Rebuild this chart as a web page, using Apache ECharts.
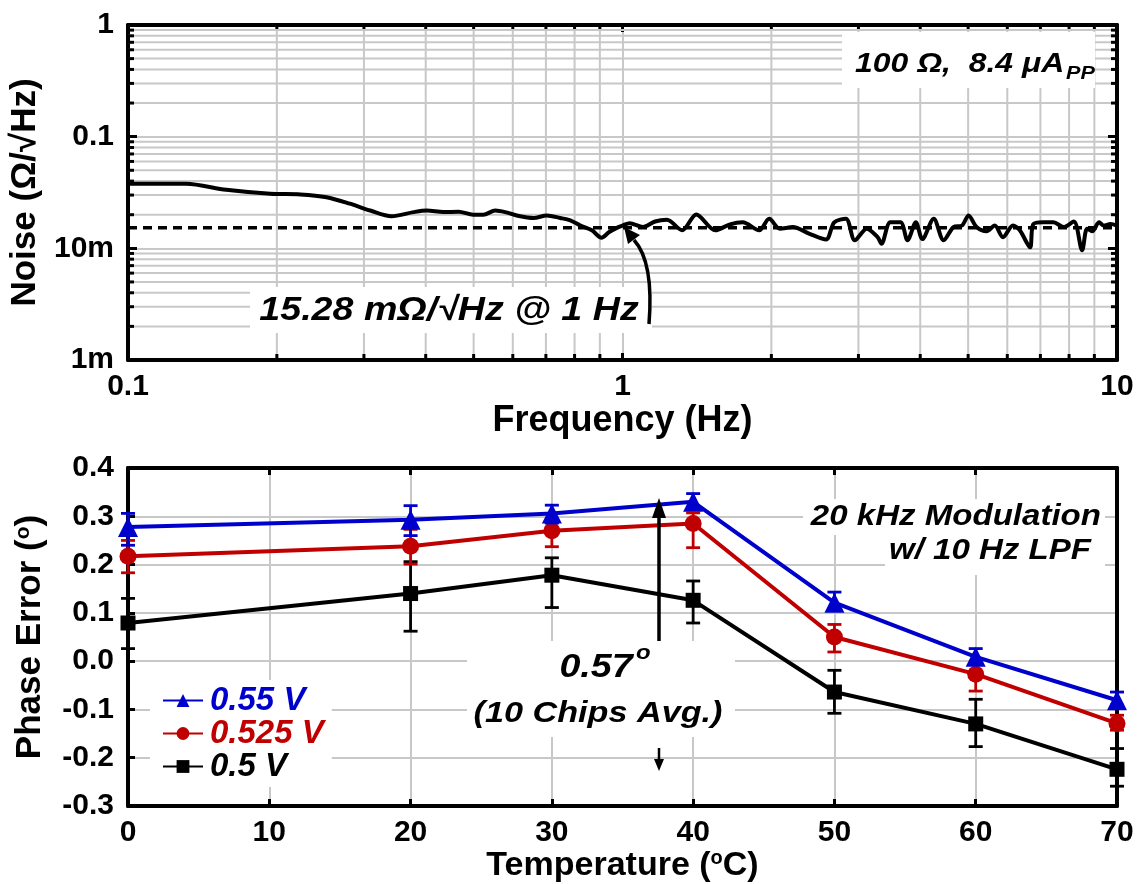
<!DOCTYPE html>
<html>
<head>
<meta charset="utf-8">
<script src="https://cdn.jsdelivr.net/npm/echarts@6/dist/echarts.min.js"></script>
<style>
html,body{margin:0;padding:0;background:#fff;}
#chart{width:1137px;height:884px;}
</style>
</head>
<body>
<div id="chart"></div>
<script>
// ---------- Data: top panel (noise spectrum) ----------
const freq = [0.1, 0.131, 0.158, 0.194, 0.223, 0.252, 0.281, 0.309, 0.341, 0.378, 0.402, 0.434, 0.466, 0.499, 0.523, 0.553, 0.579, 0.611, 0.661, 0.703, 0.748, 0.784, 0.822, 0.867, 0.907, 0.940, 0.981, 1.0, 1.034, 1.10, 1.164, 1.23, 1.32, 1.41, 1.54, 1.65, 1.75, 1.89, 1.98, 2.08, 2.21, 2.39, 2.58, 2.68, 2.83, 2.95, 3.12, 3.28, 3.34, 3.48, 3.65, 3.77, 3.92, 4.04, 4.26, 4.46, 4.67, 4.86, 5.01, 5.2, 5.45, 5.66, 5.88, 6.16, 6.36, 6.67, 6.77, 7.09, 7.44, 7.8, 8.18, 8.5, 8.7, 8.91, 9.2, 9.4, 9.7, 10];
const noise = [0.0379, 0.0379, 0.0334, 0.0308, 0.0304, 0.0287, 0.0251, 0.0218, 0.0194, 0.0211, 0.0218, 0.0211, 0.0213, 0.0200, 0.0200, 0.0218, 0.0211, 0.0197, 0.0187, 0.0197, 0.0187, 0.0178, 0.0160, 0.0145, 0.01245, 0.0140, 0.0155, 0.0160, 0.0168, 0.0155, 0.0174, 0.0180, 0.0145, 0.0201, 0.0145, 0.0164, 0.0171, 0.0145, 0.0184, 0.0150, 0.0155, 0.0135, 0.0120, 0.0171, 0.0184, 0.0118, 0.0150, 0.0126, 0.0110, 0.0171, 0.0171, 0.0118, 0.0171, 0.0121, 0.0184, 0.0118, 0.0155, 0.0160, 0.0197, 0.0155, 0.0142, 0.0160, 0.0126, 0.0160, 0.0145, 0.0102, 0.0164, 0.0171, 0.0171, 0.0155, 0.0174, 0.0096, 0.0150, 0.0142, 0.0171, 0.0160, 0.0165, 0.0160];
const noiseFloor = 0.01528;
const freqRange = [0.1, 10];
const noiseRange = [0.001, 1];
const freqMinor = [0.2,0.3,0.4,0.5,0.6,0.7,0.8,0.9,2,3,4,5,6,7,8,9];
const noiseMinor = [0.002,0.003,0.004,0.005,0.006,0.007,0.008,0.009,0.02,0.03,0.04,0.05,0.06,0.07,0.08,0.09,0.2,0.3,0.4,0.5,0.6,0.7,0.8,0.9];
const noiseTickLabels = {'0': '1', '-1': '0.1', '-2': '10m', '-3': '1m'};

// ---------- Data: bottom panel (phase error) ----------
const temps = [0, 20, 30, 40, 50, 60, 70];
const pe055 = [0.278, 0.293, 0.306, 0.330, 0.121, 0.009, -0.081];
const pe055Lo = [0.240, 0.260, 0.286, 0.314, 0.105, -0.005, -0.091];
const pe055Hi = [0.306, 0.322, 0.323, 0.347, 0.143, 0.026, -0.064];
const pe0525 = [0.217, 0.238, 0.270, 0.285, 0.050, -0.027, -0.129];
const pe0525Lo = [0.183, 0.201, 0.237, 0.235, 0.019, -0.062, -0.143];
const pe0525Hi = [0.250, 0.273, 0.288, 0.307, 0.076, -0.005, -0.112];
const pe05 = [0.079, 0.140, 0.178, 0.126, -0.064, -0.130, -0.224];
const pe05Lo = [0.026, 0.062, 0.111, 0.079, -0.108, -0.177, -0.259];
const pe05Hi = [0.130, 0.206, 0.214, 0.166, -0.019, -0.079, -0.181];
const seriesNames = ['0.55 V', '0.525 V', '0.5 V'];

// ---------- Styles ----------
const FF = '"Liberation Sans", Arial, sans-serif';
const BLUE = '#0000cc', RED = '#c00000', BLACK = '#000000';
const GRIDC = '#c8c8c8';
const SX = 1.14; // horizontal stretch of the annotation texts

const chart = echarts.init(document.getElementById('chart'), null, {renderer: 'canvas'});

function errRender(color) {
  return function (params, api) {
    const x = api.value(0), lo = api.value(1), hi = api.value(2);
    const p1 = api.coord([x, lo]), p2 = api.coord([x, hi]);
    const w = 7;
    const st = {stroke: color, lineWidth: 2.8};
    return {type: 'group', children: [
      {type: 'line', shape: {x1: p1[0], y1: p1[1], x2: p2[0], y2: p2[1]}, style: st},
      {type: 'line', shape: {x1: p1[0]-w, y1: p1[1], x2: p1[0]+w, y2: p1[1]}, style: st},
      {type: 'line', shape: {x1: p2[0]-w, y1: p2[1], x2: p2[0]+w, y2: p2[1]}, style: st}
    ]};
  };
}

function vMinor(params, api) {
  const x = api.value(0);
  const a = api.coord([x, noiseRange[0]]), b = api.coord([x, noiseRange[1]]);
  return {type: 'group', children: [
    {type: 'line', shape: {x1: a[0], y1: a[1], x2: b[0], y2: b[1]}, style: {stroke: GRIDC, lineWidth: 2}},
    {type: 'line', shape: {x1: a[0], y1: a[1], x2: a[0], y2: a[1]-6}, style: {stroke: '#000', lineWidth: 3}},
    {type: 'line', shape: {x1: b[0], y1: b[1], x2: b[0], y2: b[1]+6}, style: {stroke: '#000', lineWidth: 3}}
  ]};
}
function hMinor(params, api) {
  const y = api.value(1);
  const a = api.coord([freqRange[0], y]), b = api.coord([freqRange[1], y]);
  return {type: 'group', children: [
    {type: 'line', shape: {x1: a[0], y1: a[1], x2: b[0], y2: b[1]}, style: {stroke: GRIDC, lineWidth: 2}},
    {type: 'line', shape: {x1: a[0], y1: a[1], x2: a[0]+6, y2: a[1]}, style: {stroke: '#000', lineWidth: 3}},
    {type: 'line', shape: {x1: b[0], y1: b[1], x2: b[0]-6, y2: b[1]}, style: {stroke: '#000', lineWidth: 3}}
  ]};
}

const axisLineStyle = {show: true, onZero: false, lineStyle: {color: '#000', width: 4}};
const tickLabel = {color: '#000', fontFamily: FF, fontWeight: 'bold', fontSize: 30};
function nameStyle(size) {
  return {color: '#000', fontFamily: FF, fontWeight: 'bold', fontSize: size,
    rich: {sup: {fontFamily: FF, fontWeight: 'bold', fontSize: Math.round(size*0.6), verticalAlign: 'top', color: '#000'}}};
}
function annText(x, y, text, size, align, extra) {
  return Object.assign({type: 'text', z: 51, x: x, y: y, scaleX: SX,
    style: {text: text, font: 'italic bold ' + size + 'px ' + FF, fill: '#000', align: align, verticalAlign: 'middle'}}, extra || {});
}

const option = {
  animation: false,
  backgroundColor: '#fff',
  grid: [
    {left: 128, right: 20, top: 25, height: 335},
    {left: 128, right: 20, top: 468, height: 338}
  ],
  xAxis: [
    {gridIndex: 0, type: 'log', logBase: 10, min: freqRange[0], max: freqRange[1], position: 'bottom',
      axisLine: axisLineStyle, axisTick: {show: true, inside: true, length: 7, lineStyle: {width: 3, color: '#000'}},
      axisLabel: Object.assign({margin: 12, formatter: v => String(Math.round(Math.pow(10, Math.round(Math.log10(v)))*10)/10)}, tickLabel),
      splitLine: {show: true, lineStyle: {color: GRIDC, width: 2}},
      name: 'Frequency (Hz)', nameLocation: 'middle', nameGap: 37, nameTextStyle: nameStyle(36)},
    {gridIndex: 0, type: 'log', logBase: 10, min: freqRange[0], max: freqRange[1], position: 'top',
      axisLine: axisLineStyle, axisTick: {show: true, inside: true, length: 7, lineStyle: {width: 3, color: '#000'}},
      axisLabel: {show: false}, splitLine: {show: false}},
    {gridIndex: 1, type: 'value', min: 0, max: 70, interval: 10, position: 'bottom',
      axisLine: axisLineStyle, axisTick: {show: true, inside: true, length: 7, lineStyle: {width: 3, color: '#000'}},
      axisLabel: Object.assign({margin: 12}, tickLabel),
      splitLine: {show: true, lineStyle: {color: GRIDC, width: 2}},
      name: 'Temperature ({sup|o}C)', nameLocation: 'middle', nameGap: 38, nameTextStyle: nameStyle(34)},
    {gridIndex: 1, type: 'value', min: 0, max: 70, interval: 10, position: 'top',
      axisLine: axisLineStyle, axisTick: {show: true, inside: true, length: 7, lineStyle: {width: 3, color: '#000'}},
      axisLabel: {show: false}, splitLine: {show: false}}
  ],
  yAxis: [
    {gridIndex: 0, type: 'log', logBase: 10, min: noiseRange[0], max: noiseRange[1], position: 'left',
      axisLine: axisLineStyle, axisTick: {show: true, inside: true, length: 9, lineStyle: {width: 3, color: '#000'}},
      axisLabel: Object.assign({margin: 14, formatter: v => noiseTickLabels[String(Math.round(Math.log10(v)))]}, tickLabel),
      splitLine: {show: true, lineStyle: {color: GRIDC, width: 2}},
      name: 'Noise (Ω/√Hz)', nameLocation: 'middle', nameRotate: 90, nameGap: 80, nameTextStyle: nameStyle(35)},
    {gridIndex: 0, type: 'log', logBase: 10, min: noiseRange[0], max: noiseRange[1], position: 'right',
      axisLine: axisLineStyle, axisTick: {show: true, inside: true, length: 9, lineStyle: {width: 3, color: '#000'}},
      axisLabel: {show: false}, splitLine: {show: false}},
    {gridIndex: 1, type: 'value', min: -0.3, max: 0.4, interval: 0.1, position: 'left',
      axisLine: axisLineStyle, axisTick: {show: true, inside: true, length: 7, lineStyle: {width: 3, color: '#000'}},
      axisLabel: Object.assign({margin: 14, formatter: v => v.toFixed(1)}, tickLabel),
      splitLine: {show: true, lineStyle: {color: GRIDC, width: 2}},
      name: 'Phase Error ({sup|o})', nameLocation: 'middle', nameRotate: 90, nameGap: 80, nameTextStyle: nameStyle(35)},
    {gridIndex: 1, type: 'value', min: -0.3, max: 0.4, interval: 0.1, position: 'right',
      axisLine: axisLineStyle, axisTick: {show: false},
      axisLabel: {show: false}, splitLine: {show: false}}
  ],
  legend: {
    left: 150, top: 680, orient: 'vertical', itemGap: 0, itemWidth: 40, itemHeight: 16,
    backgroundColor: '#fff', padding: [4, 8, 4, 12],
    data: [
      {name: seriesNames[0], textStyle: {color: BLUE}},
      {name: seriesNames[1], textStyle: {color: RED}},
      {name: seriesNames[2], textStyle: {color: BLACK}}
    ],
    textStyle: {fontFamily: FF, fontWeight: 'bold', fontStyle: 'italic', fontSize: 33, padding: [0, 0, 0, 2]}
  },
  series: [
    {type: 'custom', xAxisIndex: 0, yAxisIndex: 0, z: 1, silent: true, clip: false,
      data: freqMinor.map(v => [v, noiseRange[0]]), renderItem: vMinor},
    {type: 'custom', xAxisIndex: 0, yAxisIndex: 0, z: 1, silent: true, clip: false,
      data: noiseMinor.map(v => [freqRange[0], v]), renderItem: hMinor},
    {type: 'line', xAxisIndex: 0, yAxisIndex: 0, z: 3, showSymbol: false, smooth: 0.3,
      data: freq.map((f, i) => [f, noise[i]]), lineStyle: {color: '#000', width: 4}},
    {type: 'line', xAxisIndex: 0, yAxisIndex: 0, z: 4, showSymbol: false,
      data: [[freqRange[0], noiseFloor], [freqRange[1], noiseFloor]],
      lineStyle: {color: '#000', width: 3.5, type: [9, 6]}},

    {type: 'custom', xAxisIndex: 2, yAxisIndex: 2, z: 2, clip: false, encode: {x: 0, y: [1, 2]},
      data: temps.map((t, i) => [t, pe05Lo[i], pe05Hi[i]]), renderItem: errRender(BLACK)},
    {name: seriesNames[2], type: 'line', xAxisIndex: 2, yAxisIndex: 2, z: 3,
      data: temps.map((t, i) => [t, pe05[i]]), symbol: 'rect', symbolSize: 15,
      lineStyle: {color: BLACK, width: 4}, itemStyle: {color: BLACK}},
    {type: 'custom', xAxisIndex: 2, yAxisIndex: 2, z: 4, clip: false, encode: {x: 0, y: [1, 2]},
      data: temps.map((t, i) => [t, pe0525Lo[i], pe0525Hi[i]]), renderItem: errRender(RED)},
    {name: seriesNames[1], type: 'line', xAxisIndex: 2, yAxisIndex: 2, z: 5,
      data: temps.map((t, i) => [t, pe0525[i]]), symbol: 'circle', symbolSize: 17,
      lineStyle: {color: RED, width: 4}, itemStyle: {color: RED}},
    {type: 'custom', xAxisIndex: 2, yAxisIndex: 2, z: 6, clip: false, encode: {x: 0, y: [1, 2]},
      data: temps.map((t, i) => [t, pe055Lo[i], pe055Hi[i]]), renderItem: errRender(BLUE)},
    {name: seriesNames[0], type: 'line', xAxisIndex: 2, yAxisIndex: 2, z: 7,
      data: temps.map((t, i) => [t, pe055[i]]), symbol: 'triangle', symbolSize: 20,
      lineStyle: {color: BLUE, width: 4}, itemStyle: {color: BLUE}}
  ],
  graphic: [
    // top panel annotation boxes
    {type: 'rect', z: 50, shape: {x: 842, y: 32, width: 253, height: 56}, style: {fill: '#fff'}},
    annText(855, 64, '100 Ω,  8.4 μA', 28, 'left'),
    annText(1066, 74, 'PP', 19, 'left'),
    {type: 'rect', z: 50, shape: {x: 250, y: 287, width: 402, height: 46}, style: {fill: '#fff'}},
    annText(449, 311, '15.28 mΩ/√Hz @ 1 Hz', 33, 'center'),
    {type: 'bezierCurve', z: 52, shape: {x1: 649, y1: 324, x2: 634, y2: 240, cpx1: 654, cpy1: 262}, style: {stroke: '#000', lineWidth: 3.5, fill: null}},
    {type: 'polygon', z: 52, shape: {points: [[624, 227], [640, 235], [628, 244]]}, style: {fill: '#000'}},
    // bottom panel annotations
    {type: 'rect', z: 50, shape: {x: 803, y: 499, width: 302, height: 36}, style: {fill: '#fff'}},
    {type: 'rect', z: 50, shape: {x: 885, y: 533, width: 220, height: 42}, style: {fill: '#fff'}},
    annText(1101, 517, '20 kHz Modulation', 29, 'right'),
    annText(1091, 551, 'w/ 10 Hz LPF', 29, 'right'),
    {type: 'rect', z: 50, shape: {x: 467, y: 641, width: 268, height: 96}, style: {fill: '#fff'}},
    annText(596, 668, '0.57', 33, 'center'),
    annText(636, 653, 'o', 21, 'left'),
    annText(598, 714, '(10 Chips Avg.)', 30, 'center'),
    {type: 'line', z: 52, shape: {x1: 659, y1: 641, x2: 659, y2: 514}, style: {stroke: '#000', lineWidth: 3.5}},
    {type: 'polygon', z: 52, shape: {points: [[659, 498], [652, 518], [666, 518]]}, style: {fill: '#000'}},
    {type: 'line', z: 52, shape: {x1: 659, y1: 748, x2: 659, y2: 762}, style: {stroke: '#000', lineWidth: 2.5}},
    {type: 'polygon', z: 52, shape: {points: [[659, 771], [654, 759], [664, 759]]}, style: {fill: '#000'}}
  ]
};
chart.setOption(option);
</script>
</body>
</html>
